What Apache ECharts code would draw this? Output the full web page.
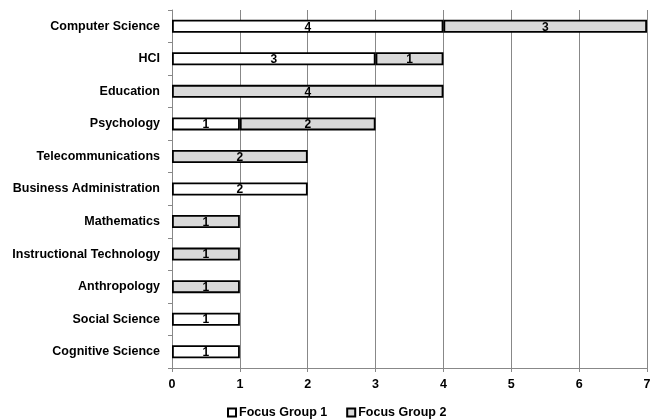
<!DOCTYPE html>
<html><head><meta charset="utf-8">
<script src="https://cdn.jsdelivr.net/npm/echarts@6/dist/echarts.min.js"></script>
<style>html,body{margin:0;padding:0;background:#fff}#c{width:654px;height:420px}</style>
</head><body><div id="c"></div>
<script>
var categories = ['Computer Science','HCI','Education','Psychology','Telecommunications','Business Administration','Mathematics','Instructional Technology','Anthropology','Social Science','Cognitive Science'];
var focusGroup1 = [4,3,0,1,0,2,0,0,0,1,1];
var focusGroup2 = [3,1,4,2,2,0,1,1,1,0,0];
var xTicks = [0,1,2,3,4,5,6,7];

var font = 'Liberation Sans, Arial, sans-serif';
function noZero(arr){ return arr.map(function(v){ return v === 0 ? null : v; }); }
var chart = echarts.init(document.getElementById('c'));
chart.setOption({
  animation:false,
  grid:{left:172,right:7,top:10,bottom:52,containLabel:false},
  xAxis:{type:'value',min:xTicks[0],max:xTicks[xTicks.length-1],interval:1,
    axisLine:{show:true,lineStyle:{color:'#888',width:1}},
    axisTick:{show:true,length:4,lineStyle:{color:'#888'}},
    axisLabel:{color:'#000',fontWeight:'bold',fontSize:12.5,fontFamily:font,margin:10},
    splitLine:{show:true,lineStyle:{color:'#888',width:1}}},
  yAxis:{type:'category',data:categories,inverse:true,
    axisLine:{show:true,lineStyle:{color:'#888',width:1}},
    axisTick:{show:true,length:4,lineStyle:{color:'#888'}},
    axisLabel:{color:'#000',fontWeight:'bold',fontSize:12.5,fontFamily:font,margin:12}},
  legend:{bottom:1,left:222,padding:[0,5,0,5],itemWidth:8,itemHeight:8,itemGap:19,
    textStyle:{color:'#000',fontWeight:'bold',fontSize:12.5,fontFamily:font,padding:[0,0,0,-2]},
    data:[{name:'Focus Group 1',icon:'rect'},{name:'Focus Group 2',icon:'rect'}]},
  series:[
    {name:'Focus Group 1',type:'bar',stack:'a',data:noZero(focusGroup1),barWidth:13,
     itemStyle:{color:'#ffffff',borderColor:'#000',borderWidth:1.8},
     label:{show:true,position:'inside',offset:[0,1],color:'#000',fontWeight:'bold',fontSize:12,fontFamily:font}},
    {name:'Focus Group 2',type:'bar',stack:'a',data:noZero(focusGroup2),barWidth:13,
     itemStyle:{color:'#d9d9d9',borderColor:'#000',borderWidth:1.8},
     label:{show:true,position:'inside',offset:[0,1],color:'#000',fontWeight:'bold',fontSize:12,fontFamily:font}}
  ]
});
</script></body></html>
